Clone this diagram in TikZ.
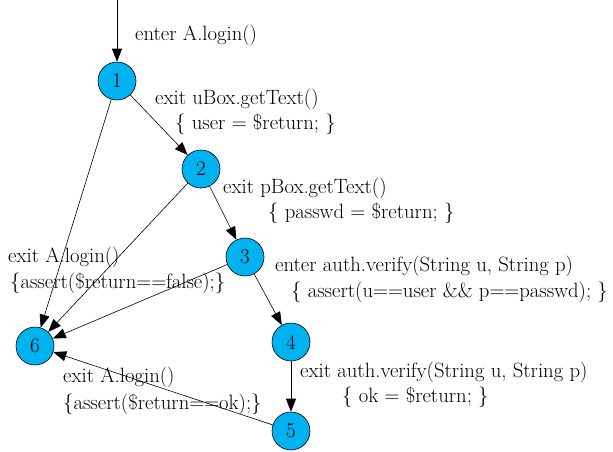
\documentclass[tikz,border=0pt]{standalone}
\usepackage{fontspec}
\usetikzlibrary{arrows.meta}
\definecolor{nodeblue}{RGB}{0,178,240}
\begin{document}
\begin{tikzpicture}[x=1pt,y=-1pt,
  state/.style={circle,draw=black,line width=0.6pt,fill=nodeblue,minimum size=38pt,inner sep=0pt,font=\rmfamily\fontsize{21}{23}\selectfont},
  lbl/.style={anchor=west,inner sep=0pt,font=\rmfamily\fontsize{20.7}{23}\selectfont},
  edge/.style={draw=black,line width=0.6pt,-{Triangle[length=13pt,width=10pt]}}]
\useasboundingbox (0,0) rectangle (613,451);
\coordinate (start) at (117,0);
\node[state] (n1) at (117,81) {1};
\node[state] (n2) at (201,169) {2};
\node[state] (n3) at (245,257) {3};
\node[state] (n4) at (291,342) {4};
\node[state] (n5) at (291,431) {5};
\node[state] (n6) at (35,346) {6};
\path[edge] (start) -- (n1);
\path[edge] (n1) -- (n2);
\path[edge] (n1) -- (n6);
\path[edge] (n2) -- (n3);
\path[edge] (n2) -- (n6);
\path[edge] (n3) -- (n4);
\path[edge] (n3) -- (n6);
\path[edge] (n4) -- (n5);
\path[edge] (n5) -- (n6);
\node[lbl] (t1) at (135,35) {enter A.login()};
\node[lbl] (t2) at (155,99) {exit uBox.getText()};
\node[lbl] (t3) at (175,124) {\{ user = \$return; \}};
\node[lbl] (t4) at (223,188) {exit pBox.getText()};
\node[lbl] (t5) at (268,213) {\{ passwd = \$return; \}};
\node[lbl] (t6) at (8,257) {exit A.login()};
\node[lbl] (t7) at (10,283) {\{assert(\$return==false);\}};
\node[lbl] (t8) at (275,266) {enter auth.verify(String u, String p)};
\node[lbl] (t9) at (291,292) {\{ assert(u==user \&\& p==passwd); \}};
\node[lbl] (t10) at (300,372) {exit auth.verify(String u, String p)};
\node[lbl] (t11) at (342,397) {\{ ok = \$return; \}};
\node[lbl] (t12) at (63,377) {exit A.login()};
\node[lbl] (t13) at (63,404) {\{assert(\$return==ok);\}};
\end{tikzpicture}
\end{document}
